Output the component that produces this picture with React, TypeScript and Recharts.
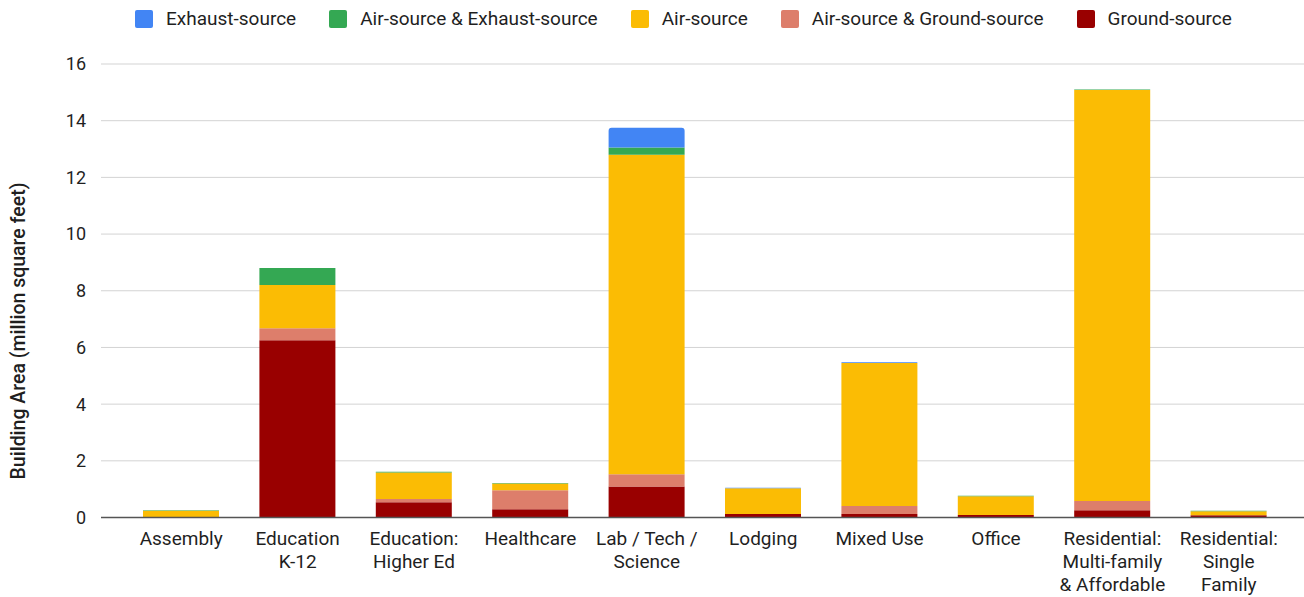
import { BarChart, Bar, XAxis, YAxis, CartesianGrid, ReferenceLine } from 'recharts';

// building types (\n = line break in the axis label)
const categories = [
  'Assembly',
  'Education\nK-12',
  'Education:\nHigher Ed',
  'Healthcare',
  'Lab / Tech /\nScience',
  'Lodging',
  'Mixed Use',
  'Office',
  'Residential:\nMulti-family\n& Affordable',
  'Residential:\nSingle\nFamily',
];

// million square feet, per heat pump source
const groundSource = [0, 6.25, 0.54, 0.29, 1.09, 0.12, 0.12, 0.09, 0.26, 0.08];
const airGroundSource = [0, 0.43, 0.11, 0.67, 0.44, 0, 0.29, 0, 0.32, 0];
const airSource = [0.24, 1.52, 0.94, 0.24, 11.27, 0.91, 5.04, 0.66, 14.5, 0.14];
const airExhaustSource = [0.02, 0.6, 0.02, 0.02, 0.25, 0, 0, 0.02, 0.02, 0.02];
const exhaustSource = [0, 0, 0, 0, 0.7, 0.02, 0.03, 0, 0, 0];

const yTicks = [0, 2, 4, 6, 8, 10, 12, 14, 16];

const series = [
  { key: 'exhaust', label: 'Exhaust-source', color: '#4285f4' },
  { key: 'airExhaust', label: 'Air-source & Exhaust-source', color: '#34a853' },
  { key: 'air', label: 'Air-source', color: '#fbbc04' },
  { key: 'airGround', label: 'Air-source & Ground-source', color: '#dd7e6b' },
  { key: 'ground', label: 'Ground-source', color: '#990000' },
];

const data = categories.map((name, i) => ({
  name,
  ground: groundSource[i],
  airGround: airGroundSource[i],
  air: airSource[i],
  airExhaust: airExhaustSource[i],
  exhaust: exhaustSource[i],
}));

const TEXT = '#1f1f1f';

function CategoryTick({ x, y, payload }: any) {
  const lines = String(payload.value).split('\n');
  return (
    <text x={x} y={y + 19} textAnchor="middle" fill={TEXT} fontSize={19}>
      {lines.map((line, i) => (
        <tspan key={i} x={x} dy={i === 0 ? 0 : 23}>
          {line}
        </tspan>
      ))}
    </text>
  );
}

function AxisTitle() {
  return (
    <text
      x={18}
      y={331}
      transform="rotate(-90, 18, 331)"
      textAnchor="middle"
      dominantBaseline="central"
      fill={TEXT}
      fontSize={19.5}
      fontWeight={500}
    >
      Building Area (million square feet)
    </text>
  );
}

function SourceLegend() {
  return (
    <div
      style={{
        position: 'absolute',
        left: 135,
        top: 9,
        display: 'flex',
        alignItems: 'center',
        fontSize: 19,
        color: TEXT,
        lineHeight: '19px',
        whiteSpace: 'nowrap',
      }}
    >
      {series.map((s) => (
        <div key={s.key} style={{ display: 'flex', alignItems: 'center', marginRight: 33 }}>
          <span
            style={{
              width: 18,
              height: 18,
              borderRadius: 2,
              background: s.color,
              marginRight: 13,
              display: 'inline-block',
            }}
          />
          <span>{s.label}</span>
        </div>
      ))}
    </div>
  );
}

export default function App() {
  // stacking order is bottom to top, the reverse of the legend
  const stack = [...series].reverse();
  return (
    <div
      style={{
        position: 'absolute',
        left: 0,
        top: 0,
        width: 1304,
        height: 597,
        background: '#fff',
        fontFamily: 'Roboto, sans-serif',
      }}
    >
      <SourceLegend />
      <BarChart
        width={1304}
        height={597}
        data={data}
        margin={{ top: 64, right: 0, bottom: 0, left: 0 }}
        barSize={76}
      >
        <CartesianGrid vertical={false} stroke="#d3d3d3" />
        <XAxis
          dataKey="name"
          interval={0}
          tickLine={false}
          axisLine={false}
          height={79.5}
          padding={{ left: 22, right: 17 }}
          tick={<CategoryTick />}
        />
        <YAxis
          width={101}
          domain={[0, 16]}
          ticks={yTicks}
          tickLine={false}
          axisLine={false}
          tickMargin={9}
          tick={{ fontSize: 18, fill: TEXT }}
        />
        {stack.map((s) => (
          <Bar
            key={s.key}
            dataKey={s.key}
            name={s.label}
            stackId="src"
            fill={s.color}
            radius={s.key === 'exhaust' ? [3, 3, 0, 0] : 0}
            isAnimationActive={false}
          />
        ))}
        <ReferenceLine y={0} stroke="#555" strokeWidth={1.5} />
        <AxisTitle />
      </BarChart>
    </div>
  );
}
